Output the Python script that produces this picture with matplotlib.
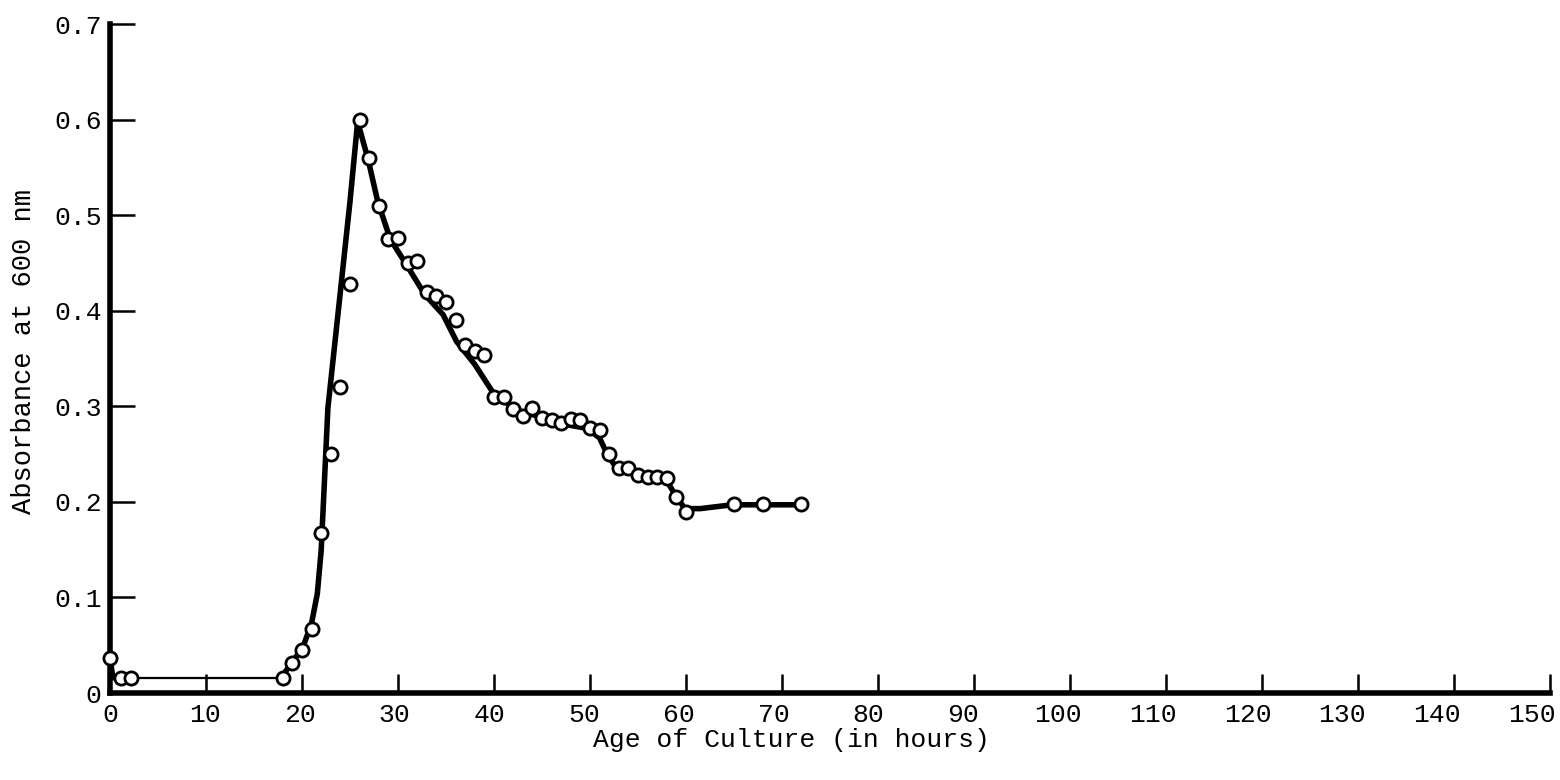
import matplotlib.pyplot as plt
import matplotlib.transforms as mtransforms

# measured points (hours, absorbance)
hours = [0, 1.1, 2.2, 18, 19, 20, 21, 22, 23, 24, 25, 26, 27, 28, 29, 30, 31, 32,
         33, 34, 35, 36, 37, 38, 39, 40, 41, 42, 43, 44, 45, 46, 47, 48, 49, 50,
         51, 52, 53, 54, 55, 56, 57, 58, 59, 60, 65, 68, 72]
absorb = [0.037, 0.016, 0.016, 0.016, 0.031, 0.045, 0.067, 0.167, 0.25, 0.32, 0.428,
          0.6, 0.56, 0.51, 0.475, 0.476, 0.45, 0.452, 0.42, 0.415, 0.409, 0.39,
          0.364, 0.358, 0.354, 0.31, 0.31, 0.297, 0.29, 0.298, 0.288, 0.286, 0.283,
          0.287, 0.286, 0.277, 0.275, 0.25, 0.235, 0.235, 0.228, 0.226, 0.226,
          0.225, 0.205, 0.189, 0.198, 0.198, 0.198]

# hand drawn curve
curve_x = [0, 0.3, 1.5]
curve_y = [0.037, 0.016, 0.016]
flat_x = [1.5, 18]
flat_y = [0.016, 0.016]
rise_x = [17.9, 19.1, 20.1, 21.0, 21.6, 22.0, 22.7, 24.0, 25.0, 25.8, 26.9, 27.9,
          29.2, 30.9, 32.8, 34.7, 36.1, 38.0, 39.8, 40.6, 42.7, 44.5, 46.9, 49.7,
          51.0, 51.8, 52.8, 54.5, 58.0, 59.1, 59.9, 61.5, 64.8, 71.9]
rise_y = [0.017, 0.034, 0.048, 0.073, 0.104, 0.149, 0.298, 0.42, 0.514, 0.598,
          0.558, 0.514, 0.475, 0.448, 0.417, 0.396, 0.368, 0.344, 0.316, 0.308,
          0.295, 0.29, 0.282, 0.277, 0.267, 0.25, 0.235, 0.229, 0.222, 0.204,
          0.193, 0.193, 0.197, 0.197]

xticks = list(range(0, 151, 10))
yticks = [0, 0.1, 0.2, 0.3, 0.4, 0.5, 0.6, 0.7]
ylabels = ["0", "0.1", "0.2", "0.3", "0.4", "0.5", "0.6", "0.7"]

plt.rcParams['font.family'] = ['Liberation Mono', 'DejaVu Sans Mono']

fig = plt.figure(figsize=(15.6, 7.8), dpi=100)
ax = fig.add_axes([0.0705, 0.1115, 0.923, 0.8575])

ax.plot(curve_x, curve_y, color='black', lw=4, solid_capstyle='round', zorder=2)
ax.plot(flat_x, flat_y, color='black', lw=1.6, zorder=2)
ax.plot(rise_x, rise_y, color='black', lw=4, solid_capstyle='round',
        solid_joinstyle='round', zorder=2)
ax.plot(hours, absorb, linestyle='none', marker='o', markersize=9.5,
        markerfacecolor='white', markeredgecolor='black', markeredgewidth=2.0,
        zorder=3, clip_on=False)

ax.set_xlim(0, 150)
ax.set_ylim(0, 0.7)
ax.set_xticks(xticks)
ax.set_xticklabels([str(t) for t in xticks])
ax.set_yticks(yticks)
ax.set_yticklabels(ylabels)

for s in ['top', 'right']:
    ax.spines[s].set_visible(False)
for s in ['left', 'bottom']:
    ax.spines[s].set_linewidth(4)

ax.tick_params(axis='x', direction='in', length=14, width=1.8, labelsize=19, pad=7)
ax.tick_params(axis='y', direction='in', length=18, width=1.8, labelsize=19, pad=6)

# typed labels drift a little left of their ticks towards the right end
for t, lab in zip(xticks, ax.get_xticklabels()):
    off = mtransforms.ScaledTranslation(-0.12 * t / 100, 0, fig.dpi_scale_trans)
    lab.set_transform(lab.get_transform() + off)

ax.set_xlabel('Age of Culture (in hours)', fontsize=19)
ax.xaxis.set_label_coords(0.4736, -0.053)
ax.set_ylabel('Absorbance at 600 nm', fontsize=19.5)
ax.yaxis.set_label_coords(-0.0505, 0.51)

fig.savefig('out.png', dpi=100)
